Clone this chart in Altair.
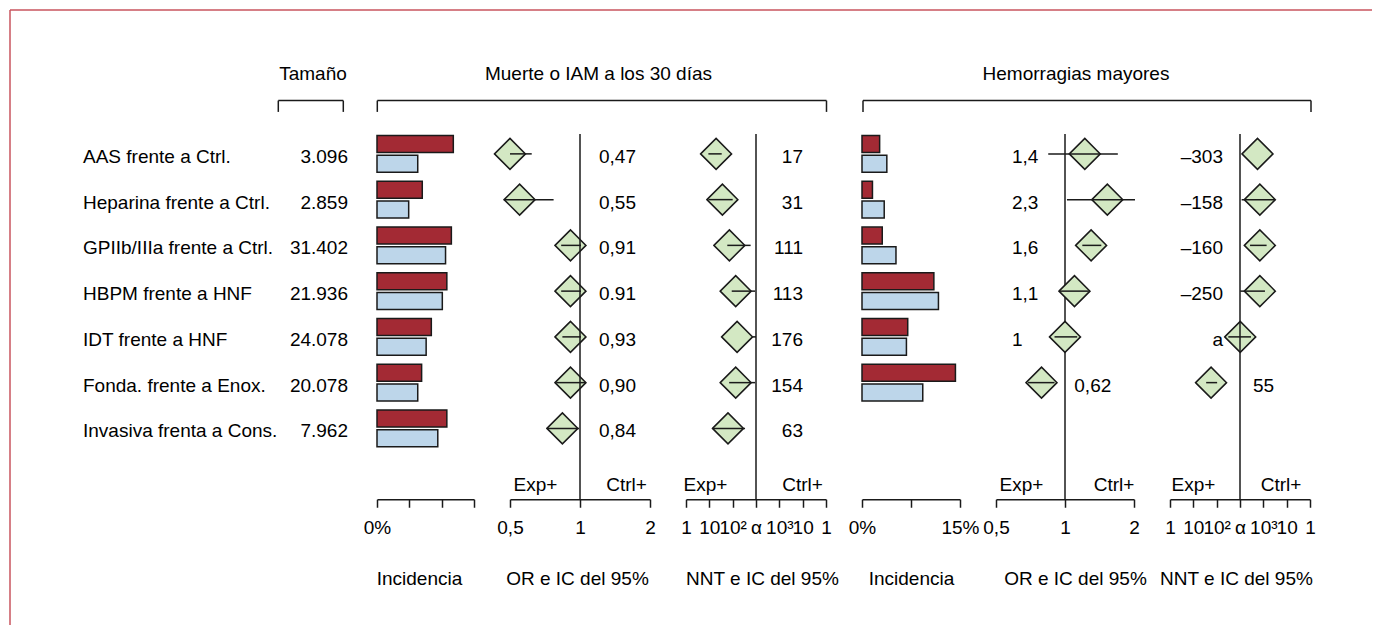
import json
import altair as alt
import pandas as pd

FONT = "Liberation Sans"
FS = 19
RED = "#a32a34"
BLUE = "#bdd6ea"
GREEN = "#d3e8c3"
INK = "#1a1a1a"
FRAME = "#c9545e"

# ---------------- data ----------------
comparisons = ["AAS frente a Ctrl.", "Heparina frente a Ctrl.", "GPIIb/IIIa frente a Ctrl.",
               "HBPM frente a HNF", "IDT frente a HNF", "Fonda. frente a Enox.",
               "Invasiva frenta a Cons."]
sizes = ["3.096", "2.859", "31.402", "21.936", "24.078", "20.078", "7.962"]

# Muerte o IAM a los 30 días
inc1_red = [11.8, 7.0, 11.5, 10.8, 8.4, 6.9, 10.8]
inc1_blue = [6.3, 4.9, 10.6, 10.1, 7.6, 6.3, 9.4]
or1 = [0.50, 0.55, 0.91, 0.91, 0.91, 0.91, 0.84]
or1_lo = [0.50, 0.47, 0.83, 0.83, 0.84, 0.79, 0.72]
or1_hi = [0.62, 0.77, 1.01, 1.01, 1.01, 1.06, 0.99]
or1_txt = ["0,47", "0,55", "0,91", "0.91", "0,93", "0,90", "0,84"]
nnt1 = [-1.71, -1.44, -1.14, -0.87, -0.81, -0.87, -1.20]
nnt1_lo = [-2.04, -2.04, -1.23, -1.04, -0.14, -1.15, -1.85]
nnt1_hi = [-1.47, -1.00, -0.23, -0.04, 0.0, -0.04, -0.47]
nnt1_txt = ["17", "31", "111", "113", "176", "154", "63"]

# Hemorragias mayores
inc2_red = [2.7, 1.6, 3.1, 11.0, 7.0, 14.3, None]
inc2_blue = [3.8, 3.4, 5.2, 11.7, 6.8, 9.3, None]
or2 = [1.22, 1.53, 1.30, 1.10, 1.00, 0.79, None]
or2_lo = [0.845, 1.02, 1.19, 0.95, 0.90, 0.69, None]
or2_hi = [1.70, 2.02, 1.44, 1.27, 1.13, 0.90, None]
or2_txt = ["1,4", "2,3", "1,6", "1,1", "1", "0,62", ""]
nnt2 = [0.75, 0.85, 0.85, 0.85, 0.01, -1.24, None]
nnt2_lo = [None, 0.07, 0.43, 0.01, -0.50, -1.45, None]
nnt2_hi = [None, 1.51, 1.14, 1.07, 0.47, -0.98, None]
nnt2_txt = ["–303", "–158", "–160", "–250", "a", "55", ""]

inc1_ticks = [0, 5, 10, 15]
inc1_tick_labels = ["0%", "", "", ""]
inc2_ticks = [0, 7.5, 15]
inc2_tick_labels = ["0%", "", "15%"]
or_ticks = [0.5, 1, 2]
or_tick_labels = ["0,5", "1", "2"]
nnt_ticks = [-3, -2, -1, 0, 1, 2, 3]
nnt_tick_labels = ["1", "10", "10²", "α", "10³", "10", "1"]

# ---------------- layout constants ----------------
H = 320.25
AX_OFF = 48
AXIS_Y = H + AX_OFF
VTOP = 2.9
HEAD_Y = -51.1
BR_Y = -30.4
BR_Y2 = -19.1
SIDE_Y = 353.5

one = pd.DataFrame({"k": [0]})

Y = alt.Y("comp:N", scale=alt.Scale(domain=comparisons, paddingInner=0, paddingOuter=0), axis=None)


def rule(x, y, x2=None, y2=None, color=INK, width=1.5):
    enc = dict(x=alt.value(x), y=alt.value(y))
    if x2 is not None:
        enc["x2"] = alt.value(x2)
    if y2 is not None:
        enc["y2"] = alt.value(y2)
    return alt.Chart(one).mark_rule(color=color, strokeWidth=width).encode(**enc)


def bracket(x1, x2):
    return [rule(x1, BR_Y, x2=x2), rule(x1, BR_Y, y2=BR_Y2), rule(x2, BR_Y, y2=BR_Y2)]


def label(text, x, y, align="center", baseline="alphabetic"):
    return alt.Chart(pd.DataFrame({"t": [text]})).mark_text(
        fontSize=FS, align=align, baseline=baseline, color="black"
    ).encode(text="t:N", x=alt.value(x), y=alt.value(y))


def expr_labels(ticks, labels):
    return "{%s}[''+datum.value]" % ",".join(
        "%s:%s" % (json.dumps(str(t)), json.dumps(l)) for t, l in zip(ticks, labels))


def idx_labels(ticks, labels):
    return "%s[round(datum.value - (%s))]" % (json.dumps(labels, ensure_ascii=False), ticks[0])


def axis(values, expr, title, title_x):
    return alt.Axis(values=values, labelExpr=expr, title=title, titleX=title_x,
                    labelOverlap=False, labelFlush=False, labelBound=False, labelSeparation=0)


# ---------------- panel 0: labels ----------------
lab_df = pd.DataFrame({"comp": comparisons, "size": sizes})
p0 = alt.layer(
    alt.Chart(lab_df).mark_text(fontSize=FS, align="left", baseline="middle", dy=3).encode(
        y=Y, x=alt.value(73), text="comp:N"),
    alt.Chart(lab_df).mark_text(fontSize=FS, align="right", baseline="middle", dy=3).encode(
        y=Y, x=alt.value(338), text="size:N"),
    label("Tamaño", 303, HEAD_Y),
    *bracket(268.3, 333.3),
    rule(0, -121.1, x2=1362, color=FRAME),
    rule(0, -121.1, y2=494, color=FRAME),
).properties(width=331, height=H)


# ---------------- incidence panels ----------------
def inc_panel(red, blue, ticks, tlabels, width, extras, title_x):
    d = pd.DataFrame({
        "comp": comparisons * 2,
        "serie": ["exp"] * len(comparisons) + ["ctrl"] * len(comparisons),
        "val": list(red) + list(blue),
    }).dropna()
    bars = alt.Chart(d).mark_bar(stroke=INK, strokeWidth=1.5).encode(
        x=alt.X("val:Q", scale=alt.Scale(domain=[0, 15], nice=False),
                axis=axis(ticks, expr_labels(ticks, tlabels), "Incidencia", title_x)),
        y=Y,
        yOffset=alt.YOffset("serie:N", scale=alt.Scale(domain=["exp", "ctrl"],
                                                      paddingInner=0.133, paddingOuter=0.236)),
        color=alt.Color("serie:N", scale=alt.Scale(domain=["exp", "ctrl"], range=[RED, BLUE]),
                        legend=None),
    )
    return alt.layer(bars, *extras).properties(width=width, height=H)


# ---------------- OR panels ----------------
def or_panel(est, lo, hi, txt, width, x_left, x_right, exp_x, ctrl_x, rule_on_top, title_x):
    d = pd.DataFrame({"comp": comparisons, "est": est, "lo": lo, "hi": hi, "txt": txt})
    xs = alt.Scale(type="log", domain=[0.5, 2], nice=False)
    ax = axis(or_ticks, expr_labels(or_ticks, or_tick_labels), "OR e IC del 95%", title_x)
    dia = alt.Chart(d).transform_filter("isValid(datum.est)").mark_point(
        shape="diamond", size=960, filled=True, fill=GREEN, stroke=INK, strokeWidth=1.5, opacity=1
    ).encode(x=alt.X("est:Q", scale=xs, axis=ax), y=Y)
    ci = alt.Chart(d).transform_filter("isValid(datum.lo) && isValid(datum.hi)").mark_rule(
        color=INK, strokeWidth=1.5).encode(x=alt.X("lo:Q", scale=xs, axis=ax), x2="hi:Q", y=Y)
    vline = alt.Chart(one).mark_rule(color=INK, strokeWidth=1.5).encode(
        x=alt.X(datum=1, type="quantitative", scale=xs, axis=ax),
        y=alt.value(VTOP), y2=alt.value(AXIS_Y))
    t_left = alt.Chart(d).transform_filter("isValid(datum.est) && datum.est >= 1").mark_text(
        fontSize=FS, align="left", baseline="middle", dy=3).encode(y=Y, x=alt.value(x_left), text="txt:N")
    t_right = alt.Chart(d).transform_filter("isValid(datum.est) && datum.est < 1").mark_text(
        fontSize=FS, align="left", baseline="middle", dy=3).encode(y=Y, x=alt.value(x_right), text="txt:N")
    layers = [dia, vline, ci] if rule_on_top else [vline, dia, ci]
    layers += [t_left, t_right, label("Exp+", exp_x, SIDE_Y, baseline="middle"),
               label("Ctrl+", ctrl_x, SIDE_Y, baseline="middle")]
    return alt.layer(*layers).properties(width=width, height=H)


# ---------------- NNT panels ----------------
def nnt_panel(est, lo, hi, txt, width, x_harm, harm_align, x_ben, ben_align,
              exp_x, ctrl_x, rule_on_top, title_x):
    d = pd.DataFrame({"comp": comparisons, "est": est, "lo": lo, "hi": hi, "txt": txt})
    xs = alt.Scale(domain=[-3, 3], nice=False, zero=False)
    ax = axis(nnt_ticks, idx_labels(nnt_ticks, nnt_tick_labels), "NNT e IC del 95%", title_x)
    dia = alt.Chart(d).transform_filter("isValid(datum.est)").mark_point(
        shape="diamond", size=960, filled=True, fill=GREEN, stroke=INK, strokeWidth=1.5, opacity=1
    ).encode(x=alt.X("est:Q", scale=xs, axis=ax), y=Y)
    ci = alt.Chart(d).transform_filter("isValid(datum.lo) && isValid(datum.hi)").mark_rule(
        color=INK, strokeWidth=1.5).encode(x=alt.X("lo:Q", scale=xs, axis=ax), x2="hi:Q", y=Y)
    vline = alt.Chart(one).mark_rule(color=INK, strokeWidth=1.5).encode(
        x=alt.X(datum=0, type="quantitative", scale=xs, axis=ax),
        y=alt.value(VTOP), y2=alt.value(AXIS_Y))
    t_harm = alt.Chart(d).transform_filter("isValid(datum.est) && datum.est > -0.5").mark_text(
        fontSize=FS, align=harm_align, baseline="middle", dy=3).encode(y=Y, x=alt.value(x_harm), text="txt:N")
    t_ben = alt.Chart(d).transform_filter("isValid(datum.est) && datum.est <= -0.5").mark_text(
        fontSize=FS, align=ben_align, baseline="middle", dy=3).encode(y=Y, x=alt.value(x_ben), text="txt:N")
    layers = [dia, vline, ci] if rule_on_top else [vline, dia, ci]
    layers += [t_harm, t_ben, label("Exp+", exp_x, SIDE_Y, baseline="middle"),
               label("Ctrl+", ctrl_x, SIDE_Y, baseline="middle")]
    return alt.layer(*layers).properties(width=width, height=H)


i1 = inc_panel(inc1_red, inc1_blue, inc1_ticks, inc1_tick_labels, 97,
               [label("Muerte o IAM a los 30 días", 221.5, HEAD_Y), *bracket(0.3, 449.5)], 42)
o1 = or_panel(or1, or1_lo, or1_hi, or1_txt, 140, 16, 89, 25.5, 116.5, True, 67)
n1 = nnt_panel(nnt1, nnt1_lo, nnt1_hi, nnt1_txt, 140, 117, "right", 117, "right",
               19.5, 116.5, True, 76)
i2 = inc_panel(inc2_red, inc2_blue, inc2_ticks, inc2_tick_labels, 98,
               [label("Hemorragias mayores", 214, HEAD_Y), *bracket(1, 449)], 49)
o2 = or_panel(or2, or2_lo, or2_hi, or2_txt, 138, 16, 78.3, 25.5, 118, False, 79)
n2 = nnt_panel(nnt2, nnt2_lo, nnt2_hi, nnt2_txt, 140, 53, "right", 83, "left",
               23.5, 111, True, 66)

chart = alt.hconcat(p0, i1, o1, n1, i2, o2, n2, spacing=36, bounds="flush").properties(
    padding={"left": 1, "top": 1, "right": 0, "bottom": 0}
).configure(font=FONT).configure_view(stroke=None).configure_axis(
    grid=False, domainColor=INK, domainWidth=1.5, tickColor=INK, tickWidth=1.5, tickSize=8,
    labelFont=FONT, labelFontSize=FS, labelColor="black", labelPadding=11, labelFlush=False,
    labelOverlap=False, titleFont=FONT, titleFontSize=FS, titleFontWeight="normal",
    titleColor="black", titlePadding=32, offset=AX_OFF
).configure_text(font=FONT, fontSize=FS, color="black")

chart.save("out.html", embed_options={"renderer": "svg", "actions": False})
